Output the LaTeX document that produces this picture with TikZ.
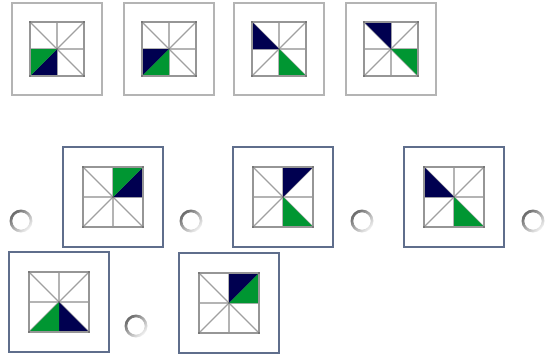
\documentclass[tikz,border=0pt]{standalone}
\definecolor{navyc}{RGB}{0,0,80}
\definecolor{greenc}{RGB}{0,150,50}
\definecolor{midc}{RGB}{180,180,180}
\definecolor{diagc}{RGB}{160,160,160}
\definecolor{edgec}{RGB}{150,150,150}
\definecolor{dotc}{RGB}{90,90,90}
\definecolor{topframe}{RGB}{180,180,180}
\definecolor{optframe}{RGB}{95,110,140}
\tikzset{
  topbox/.style={draw=topframe, line width=2pt, fill=white, minimum width=90pt, minimum height=92pt, inner sep=0pt},
  optbox/.style={draw=optframe, line width=2pt, fill=white, minimum width=100pt, minimum height=100pt, inner sep=0pt},
  radio/.style={circle, minimum size=23pt, inner sep=0pt},
  ring/.style={even odd rule, top color={rgb,255:red,105;green,105;blue,105}, bottom color={rgb,255:red,245;green,245;blue,245}, shading angle=45},
  midline/.style={draw=midc, line width=2.4pt},
  diagline/.style={draw=diagc, line width=1.3pt},
  gridedge/.style={draw=edgec, line width=1.6pt},
}
% #1 node name, #2 half size, #3 navy triangle index, #4 green triangle index
\newcommand\tile[4]{%
  \begin{scope}[shift={(#1.center)}, xscale=#2, yscale=-#2]
    \foreach \k/\px/\py in {0/1/0,1/1/1,2/0/1,3/-1/1,4/-1/0,5/-1/-1,6/0/-1,7/1/-1,8/1/0}
      {\coordinate (p\k) at (\px,\py);}
    \coordinate (pc) at (0,0);
  \end{scope}
  \draw[midline] (p4) -- (p0) (p6) -- (p2);
  \draw[diagline] (p5) -- (p1) (p3) -- (p7);
  \pgfmathtruncatemacro\nna{#3+1}%
  \pgfmathtruncatemacro\nnb{#4+1}%
  \fill[navyc] (pc) -- (p#3) -- (p\nna) -- cycle;
  \fill[greenc] (pc) -- (p#4) -- (p\nnb) -- cycle;
  \draw[gridedge] (p5) rectangle (p1);
  \foreach \q in {1,3,5,7,c} {\fill[dotc] (p\q) circle[radius=0.9pt];}}
\newcommand\radiobtn[1]{\shade[ring] (#1.center) circle[radius=11.5pt] (#1.center) circle[radius=8.7pt];}
\begin{document}
\begin{tikzpicture}[x=1pt, y=-1pt]
  \useasboundingbox (0,0) rectangle (546,356);
  % sequence
  \node[topbox] (q1) at (57,49) {};
  \node[topbox] (q2) at (169,49) {};
  \node[topbox] (q3) at (279,49) {};
  \node[topbox] (q4) at (391,49) {};
  \tile{q1}{27}{5}{4}
  \tile{q2}{27}{4}{5}
  \tile{q3}{27}{3}{6}
  \tile{q4}{27}{2}{7}
  % options
  \node[radio] (r1) at (21,221) {};
  \node[radio] (r2) at (191,221) {};
  \node[radio] (r3) at (362,221) {};
  \node[radio] (r4) at (533,221) {};
  \node[radio] (r5) at (136,326) {};
  \radiobtn{r1}\radiobtn{r2}\radiobtn{r3}\radiobtn{r4}\radiobtn{r5}
  \node[optbox] (a) at (113,197) {};
  \node[optbox] (b) at (283,197) {};
  \node[optbox] (c) at (454,197) {};
  \node[optbox] (d) at (59,302) {};
  \node[optbox] (e) at (229,303) {};
  \tile{a}{30}{0}{1}
  \tile{b}{30}{1}{6}
  \tile{c}{30}{3}{6}
  \tile{d}{30}{6}{5}
  \tile{e}{30}{1}{0}
\end{tikzpicture}
\end{document}
